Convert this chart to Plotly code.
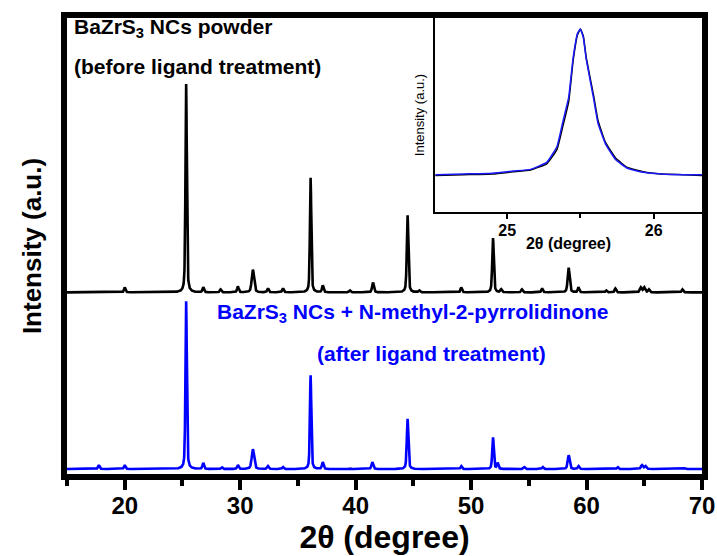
import numpy as np
import plotly.graph_objects as go

# ---------------- data ----------------
# Main pattern: peak positions (2theta, degree), heights (a.u.), half widths (degree)
peak_pos_before = [20.0, 25.32, 26.8, 28.3, 29.8, 31.1, 32.4, 33.7, 36.1, 37.15, 39.5,
                   41.5, 44.5, 45.5, 49.15, 51.9, 52.6, 54.4, 56.15, 58.45, 59.3, 61.7,
                   62.5, 64.7, 65.0, 65.4, 68.3]
peak_h_before = [5, 211, 5, 3, 6, 23, 4, 4, 116, 7, 2,
                 10, 78, 2, 5, 55, 3, 3, 4, 25, 5, 2,
                 4, 5, 5, 3, 3]
peak_w_before = [0.08, 0.07, 0.08, 0.08, 0.08, 0.12, 0.08, 0.08, 0.07, 0.08, 0.08,
                 0.09, 0.08, 0.08, 0.08, 0.08, 0.08, 0.08, 0.08, 0.1, 0.08, 0.08,
                 0.08, 0.1, 0.1, 0.08, 0.08]

peak_pos_after = [17.75, 20.0, 25.32, 26.8, 28.4, 29.8, 31.1, 32.4, 33.7, 36.1, 37.15,
                  39.5, 41.45, 44.5, 49.15, 51.9, 52.3, 54.6, 56.2, 58.45, 59.3, 62.7,
                  64.8, 65.1, 68.5]
peak_h_after = [4, 4, 170, 6, 2, 4, 20, 3, 2, 95, 7,
                1, 7, 51, 3, 32, 6, 2, 2, 14, 3, 2,
                4, 3, 1]
peak_w_after = [0.08, 0.08, 0.07, 0.08, 0.08, 0.08, 0.12, 0.08, 0.08, 0.07, 0.08,
                0.08, 0.09, 0.08, 0.08, 0.08, 0.08, 0.08, 0.08, 0.1, 0.08, 0.08,
                0.1, 0.1, 0.08]

offset_before = 184   # vertical stacking offset of the "before" pattern
offset_after = 5

# Inset: reflection around 25.5 degree, normalised intensity
inset_theta_before = [24.51, 24.7, 24.9, 25.04, 25.16, 25.27, 25.34, 25.38, 25.42, 25.45,
                      25.48, 25.50, 25.52, 25.54, 25.59, 25.62, 25.67, 25.74, 25.82, 25.93,
                      26.05, 26.2, 26.33]
inset_int_before = [-0.01, -0.005, 0.0, 0.015, 0.028, 0.07, 0.17, 0.33, 0.5, 0.78,
                    0.96, 1.0, 0.95, 0.8, 0.54, 0.37, 0.22, 0.11, 0.045, 0.015,
                    0.0, -0.005, -0.01]
inset_theta_after = [24.51, 24.7, 24.9, 25.04, 25.16, 25.27, 25.34, 25.38, 25.42, 25.45,
                     25.48, 25.50, 25.52, 25.54, 25.59, 25.62, 25.67, 25.74, 25.82, 25.93,
                     26.05, 26.2, 26.33]
inset_int_after = [-0.005, 0.0, 0.005, 0.02, 0.032, 0.08, 0.19, 0.36, 0.53, 0.8,
                   0.97, 1.0, 0.94, 0.79, 0.52, 0.35, 0.21, 0.1, 0.04, 0.012,
                   0.0, -0.005, -0.005]

x_range = [15, 70]
x_ticks = [20, 30, 40, 50, 60, 70]
inset_ticks = [25, 26]


def pattern(pos, h, w, offset):
    """Sum of pseudo-Voigt peaks at the read positions/heights."""
    x = np.arange(x_range[0], x_range[1] + 0.005, 0.01)
    y = np.zeros_like(x)
    for p, a, hw in zip(pos, h, w):
        d = (x - p) / hw
        lor = 1.0 / (1.0 + d ** 2)
        gau = np.exp(-np.log(2) * d ** 2)
        y += a * (0.45 * lor + 0.55 * gau)
    return x, y + offset


xb, yb = pattern(peak_pos_before, peak_h_before, peak_w_before, offset_before)
xa, ya = pattern(peak_pos_after, peak_h_after, peak_w_after, offset_after)

FONT = "Liberation Sans, Arial, sans-serif"

fig = go.Figure()
fig.add_trace(go.Scatter(x=xb, y=yb, mode="lines", line=dict(color="#000000", width=2.6),
                         showlegend=False, xaxis="x", yaxis="y"))
fig.add_trace(go.Scatter(x=xa, y=ya, mode="lines", line=dict(color="#0000ff", width=2.6),
                         showlegend=False, xaxis="x", yaxis="y"))
fig.add_trace(go.Scatter(x=inset_theta_before, y=inset_int_before, mode="lines",
                         line=dict(color="#000000", width=1.5, shape="spline", smoothing=0.35),
                         showlegend=False, xaxis="x2", yaxis="y2"))
fig.add_trace(go.Scatter(x=inset_theta_after, y=inset_int_after, mode="lines",
                         line=dict(color="#1a1aff", width=1.5, shape="spline", smoothing=0.35),
                         showlegend=False, xaxis="x2", yaxis="y2"))

fig.update_layout(
    template="none",
    width=717, height=556,
    margin=dict(l=67, r=15, t=18, b=82, autoexpand=False),
    paper_bgcolor="white", plot_bgcolor="white",
    font=dict(family=FONT, color="black"),
    xaxis=dict(
        domain=[0, 1], range=x_range, tickvals=x_ticks, automargin=False,
        showgrid=False, zeroline=False,
        showline=True, linewidth=6, linecolor="black", mirror=True,
        ticks="outside", ticklen=10, tickwidth=4, tickcolor="black",
        minor=dict(dtick=5, tick0=15, ticks="outside", ticklen=6, tickwidth=4, tickcolor="black"),
        tickfont=dict(size=24, family=FONT, weight="bold"),
        ticklabelstandoff=-5,
        title=dict(text="<b>2θ (degree)</b>", font=dict(size=32, family=FONT), standoff=2),
    ),
    yaxis=dict(
        domain=[0, 1], range=[0, 462], automargin=False,
        showgrid=False, zeroline=False, showticklabels=False, ticks="",
        showline=True, linewidth=6, linecolor="black", mirror=True,
        title=dict(text="<b>Intensity (a.u.)</b>", font=dict(size=26, family=FONT), standoff=14),
    ),
    xaxis2=dict(
        domain=[0.5795, 1.0], anchor="y2", range=[24.507, 26.33], tickvals=inset_ticks,
        automargin=False, showgrid=False, zeroline=False,
        showline=True, linewidth=2, linecolor="black", mirror=True,
        ticks="outside", ticklen=5, tickwidth=2, tickcolor="black",
        minor=dict(tickvals=[25.5], ticks="outside", ticklen=4, tickwidth=2, tickcolor="black"),
        tickfont=dict(size=16, family=FONT, weight="bold"),
        ticklabelstandoff=-2,
        title=dict(text="<b>2θ (degree)</b>", font=dict(size=16, family=FONT), standoff=0),
    ),
    yaxis2=dict(
        domain=[0.5746, 1.0], anchor="x2", range=[-0.262, 1.076], automargin=False,
        showgrid=False, zeroline=False, showticklabels=False, ticks="",
        showline=True, linewidth=2, linecolor="black", mirror=True,
        title=dict(text="Intensity (a.u.)", font=dict(size=13, family=FONT), standoff=5),
    ),
)

annots = [
    dict(text="<b>BaZrS<sub>3</sub> NCs powder</b>", x=0.008, y=0.978, color="black"),
    dict(text="<b>(before ligand treatment)</b>", x=0.008, y=0.8947, color="black"),
    dict(text="<b>BaZrS<sub>3</sub> NCs + N-methyl-2-pyrrolidinone</b>", x=0.2334, y=0.353, color="#0000ff"),
    dict(text="<b>(after ligand treatment)</b>", x=0.391, y=0.265, color="#0000ff"),
]
for a in annots:
    fig.add_annotation(text=a["text"], x=a["x"], y=a["y"], xref="paper", yref="paper",
                       xanchor="left", yanchor="middle", showarrow=False,
                       font=dict(size=21, family=FONT, color=a["color"]))

fig.write_html("out.html")
